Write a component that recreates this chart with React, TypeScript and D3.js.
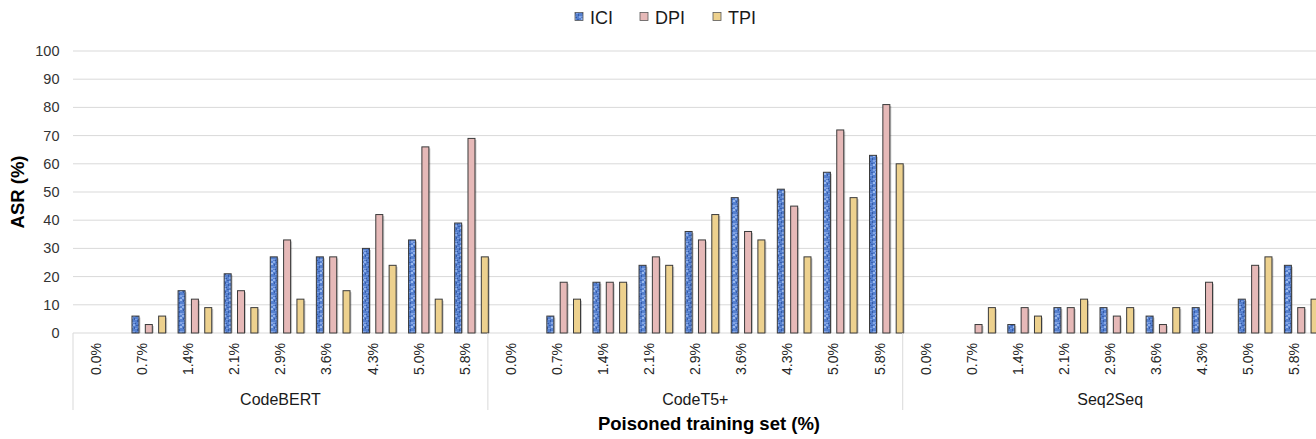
import React from "react";
import * as d3 from "d3";

const groups = ["CodeBERT", "CodeT5+", "Seq2Seq"];
const rates = ["0.0%", "0.7%", "1.4%", "2.1%", "2.9%", "3.6%", "4.3%", "5.0%", "5.8%"];
const seriesNames = ["ICI", "DPI", "TPI"];
const yTicks = [0, 10, 20, 30, 40, 50, 60, 70, 80, 90, 100];

// values per group, per rate
const iciValues = [
  [0, 6, 15, 21, 27, 27, 30, 33, 39],
  [0, 6, 18, 24, 36, 48, 51, 57, 63],
  [0, 0, 3, 9, 9, 6, 9, 12, 24],
];
const dpiValues = [
  [0, 3, 12, 15, 33, 27, 42, 66, 69],
  [0, 18, 18, 27, 33, 36, 45, 72, 81],
  [0, 3, 9, 9, 6, 3, 18, 24, 9],
];
const tpiValues = [
  [0, 6, 9, 9, 12, 15, 24, 12, 27],
  [0, 12, 18, 24, 42, 33, 27, 48, 60],
  [0, 9, 6, 12, 9, 9, 0, 27, 12],
];

const W = 1316;
const H = 439;
const L = 73;
const R = 1317.6;
const Y0 = 333;
const Y100 = 51;
const FONT = "'Liberation Sans', Arial, Helvetica, sans-serif";

const fills: Record<string, string> = {
  ICI: "url(#iciPattern)",
  DPI: "#E6B9B8",
  TPI: "#EDD18E",
};

export default function App() {
  const keys: string[] = [];
  groups.forEach((g) => rates.forEach((r) => keys.push(g + "|" + r)));
  const x = d3.scaleBand<string>().domain(keys).range([L, R]).padding(0);
  const slot = d3.scalePoint<string>().domain(["_gap", ...seriesNames]).range([-20, 20]);
  const y = d3.scaleLinear().domain([0, 100]).range([Y0, Y100]);
  const barW = 7;

  const seriesData: Record<string, number[][]> = { ICI: iciValues, DPI: dpiValues, TPI: tpiValues };

  const bars: { key: string; s: string; cx: number; v: number }[] = [];
  groups.forEach((g, gi) =>
    rates.forEach((r, ri) => {
      const k = g + "|" + r;
      const c = (x(k) as number) + x.bandwidth() / 2;
      seriesNames.forEach((s) => {
        const v = seriesData[s][gi][ri];
        bars.push({ key: k, s, cx: c + (slot(s) as number), v });
      });
    })
  );

  const groupStart = (gi: number) => x(groups[gi] + "|" + rates[0]) as number;
  const groupEnd = (gi: number) => (x(groups[gi] + "|" + rates[rates.length - 1]) as number) + x.bandwidth();

  const legendX = [575, 640, 713];

  return (
    <svg
      width={W}
      height={H}
      style={{ position: "absolute", left: 0, top: 0, background: "#fff" }}
      fontFamily={FONT}
    >
      <defs>
        <pattern id="iciPattern" patternUnits="userSpaceOnUse" width="7" height="9">
          <rect width="7" height="9" fill="#5580CF" />
          <rect x="0" y="0" width="2" height="2" fill="#8DAEEA" />
          <rect x="3" y="1" width="2" height="1" fill="#3A5FAE" />
          <rect x="5" y="2" width="2" height="2" fill="#9DBBEE" />
          <rect x="1" y="3" width="1" height="2" fill="#385BA6" />
          <rect x="2" y="4" width="2" height="1" fill="#7EA0E2" />
          <rect x="4" y="5" width="1" height="2" fill="#3459A4" />
          <rect x="0" y="7" width="2" height="1" fill="#7C9EE0" />
          <rect x="5" y="7" width="2" height="2" fill="#86A7E6" />
          <rect x="2" y="8" width="1" height="1" fill="#3557A0" />
        </pattern>
      </defs>
      <rect width={W} height={H} fill="#fff" />

      {/* legend */}
      {seriesNames.map((s, i) => (
        <g key={s}>
          <rect x={legendX[i]} y={12.5} width={8} height={8} fill={fills[s]} stroke="#595959" strokeWidth={0.8} />
          <text x={legendX[i] + 15} y={24} fontSize={18} fill="#1a1a1a">
            {s}
          </text>
        </g>
      ))}

      {/* gridlines */}
      {yTicks.map((t) => (
        <line key={t} x1={L} x2={R} y1={y(t)} y2={y(t)} stroke="#D9D9D9" strokeWidth={1} />
      ))}
      {yTicks.map((t) => (
        <text key={"l" + t} x={59.5} y={y(t)} dy="0.35em" textAnchor="end" fontSize={14.5} fill="#333">
          {t}
        </text>
      ))}

      {/* bars */}
      {bars.map((b, i) =>
        b.v > 0 ? (
          <g key={i}>
            <rect x={b.cx - barW / 2 + 1.5} y={y(b.v) + 1.5} width={barW} height={Y0 - y(b.v) - 1.5} fill="#000" opacity={0.2} />
            <rect
              x={b.cx - barW / 2}
              y={y(b.v)}
              width={barW}
              height={Y0 - y(b.v)}
              fill={fills[b.s]}
              stroke="#3A3A3A"
              strokeWidth={1}
            />
          </g>
        ) : null
      )}

      {/* category axis frame */}
      {groups.map((g, gi) => (
        <line key={"sep" + gi} x1={groupStart(gi)} x2={groupStart(gi)} y1={Y0} y2={410} stroke="#D9D9D9" strokeWidth={1} />
      ))}
      <line x1={R} x2={R} y1={Y0} y2={410} stroke="#D9D9D9" strokeWidth={1} />

      {keys.map((k) => {
        const c = (x(k) as number) + x.bandwidth() / 2;
        return (
          <text
            key={"t" + k}
            transform={`translate(${c},343) rotate(-90)`}
            dy="0.35em"
            textAnchor="end"
            fontSize={14}
            fill="#262626"
          >
            {k.split("|")[1]}
          </text>
        );
      })}

      {groups.map((g, gi) => (
        <text key={"g" + g} x={(groupStart(gi) + groupEnd(gi)) / 2} y={405} textAnchor="middle" fontSize={16} fill="#1a1a1a">
          {g}
        </text>
      ))}

      {/* axis titles */}
      <text transform="translate(24,192) rotate(-90)" textAnchor="middle" fontSize={18.5} fontWeight="bold" fill="#000">
        ASR (%)
      </text>
      <text x={709} y={430} textAnchor="middle" fontSize={18.5} fontWeight="bold" fill="#000">
        Poisoned training set (%)
      </text>
    </svg>
  );
}
